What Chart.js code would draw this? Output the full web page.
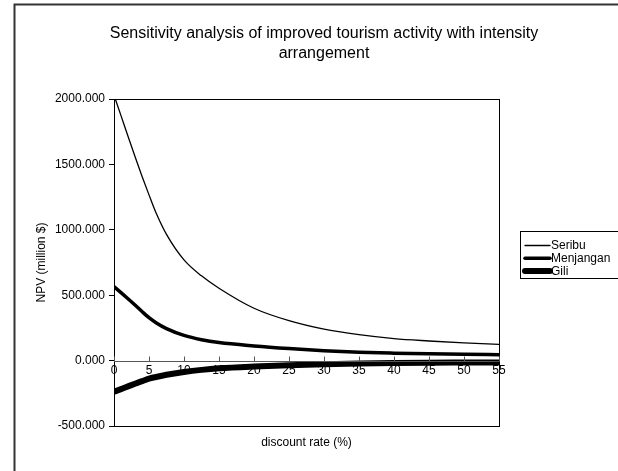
<!DOCTYPE html>
<html>
<head>
<meta charset="utf-8">
<script src="https://cdn.jsdelivr.net/npm/chart.js@4"></script>
<style>
  html, body { margin: 0; padding: 0; background: #fff; }
  #wrap { width: 618px; height: 471px; position: relative; }
</style>
</head>
<body>
<div id="wrap"><canvas id="npvChart" width="618" height="471"></canvas></div>
<script>
// sensitivity chart - NPV vs discount rate

const titleLines = ['Sensitivity analysis of improved tourism activity with intensity', 'arrangement'];
const xTitle = 'discount rate (%)';
const yTitle = 'NPV (million $)';

const rates = [0, 1, 2, 3, 4, 5, 6, 7.5, 10, 12.5, 15, 20, 25, 30, 35, 40, 45, 50, 55];
const seriesNames = ['Seribu', 'Menjangan', 'Gili'];
const seribu = [2030, 1873, 1715, 1560, 1410, 1267, 1130, 965, 770, 648, 553, 400, 305, 240, 198, 168, 150, 135, 124];
const menjangan = [566, 520, 473, 425, 375, 328, 290, 245, 193, 160, 138, 112, 92, 76, 64, 57, 52, 48, 45];
const gili = [-238, -218, -197, -177, -157, -138, -125, -108, -87, -71, -59, -45, -35, -28, -23, -19, -16, -15, -14];
const lineWidths = [1.3, 3.5, 6];

const xMin = 0, xMax = 55, xStep = 5;
const yMin = -500, yMax = 2000, yStep = 500;

const FONT = 'Arial, "Liberation Sans", sans-serif';

function toPoints(vals) {
    return vals.map((v, i) => ({ x: rates[i], y: v }));
}

// frame, title, x-axis title, upward tick marks, boxed legend
const decorPlugin = {
    id: 'decor',
    afterDraw(chart) {
        const ctx = chart.ctx;
        const area = chart.chartArea;
        const xs = chart.scales.x;
        const ys = chart.scales.y;
        ctx.save();

        // outer frame (top + left visible)
        ctx.strokeStyle = '#333';
        ctx.lineWidth = 2;
        ctx.beginPath();
        ctx.moveTo(14.5, 471);
        ctx.lineTo(14.5, 4.5);
        ctx.lineTo(618, 4.5);
        ctx.stroke();

        // plot box
        ctx.strokeStyle = '#000';
        ctx.lineWidth = 1;
        ctx.strokeRect(Math.round(area.left) + 0.5, Math.round(area.top) + 0.5,
            Math.round(area.width), Math.round(area.height));

        // zero axis line + tick marks pointing up
        const y0 = Math.round(ys.getPixelForValue(0)) + 0.5;
        ctx.strokeStyle = '#555';
        ctx.beginPath();
        ctx.moveTo(area.left, y0);
        ctx.lineTo(area.right, y0);
        xs.ticks.forEach(t => {
            const px = Math.round(xs.getPixelForValue(t.value)) + 0.5;
            ctx.moveTo(px, y0);
            ctx.lineTo(px, y0 - 5);
        });
        ctx.stroke();

        // title
        ctx.fillStyle = '#000';
        ctx.textAlign = 'center';
        ctx.textBaseline = 'middle';
        ctx.font = '16px ' + FONT;
        titleLines.forEach((line, i) => ctx.fillText(line, 324, 34 + i * 20));

        // x title
        ctx.font = '12px ' + FONT;
        ctx.fillText(xTitle, (area.left + area.right) / 2, 443);

        // legend
        ctx.strokeStyle = '#000';
        ctx.lineWidth = 1;
        ctx.strokeRect(520.5, 231.5, 110, 47);
        ctx.textAlign = 'left';
        chart.data.datasets.forEach((ds, i) => {
            const ly = 245.5 + i * 12.7;
            ctx.strokeStyle = ds.borderColor;
            ctx.lineWidth = ds.borderWidth;
            ctx.lineCap = 'round';
            ctx.beginPath();
            ctx.moveTo(525, ly);
            ctx.lineTo(550, ly);
            ctx.stroke();
            ctx.fillStyle = '#000';
            ctx.fillText(ds.label, 551, ly + 0.5);
        });
        ctx.restore();
    }
};

function initChart() {
    const ctx = document.getElementById('npvChart').getContext('2d');
    const allSeries = [seribu, menjangan, gili];

    new Chart(ctx, {
        type: 'line',
        data: {
            datasets: allSeries.map((vals, i) => ({
                label: seriesNames[i],
                data: toPoints(vals),
                borderColor: '#000',
                backgroundColor: '#000',
                borderWidth: lineWidths[i],
                pointRadius: 0,
                fill: false,
                cubicInterpolationMode: 'monotone'
            }))
        },
        options: {
            responsive: false,
            animation: false,
            layout: { padding: { left: 34, right: 119, top: 99, bottom: 45 } },
            plugins: {
                legend: { display: false },
                title: { display: false },
                tooltip: { enabled: false }
            },
            scales: {
                x: {
                    type: 'linear',
                    position: { y: 0 },
                    min: xMin,
                    max: xMax,
                    border: { display: false },
                    grid: { display: false },
                    ticks: {
                        stepSize: xStep,
                        maxRotation: 0,
                        padding: -5,
                        color: '#000',
                        font: { family: FONT, size: 12 }
                    }
                },
                y: {
                    min: yMin,
                    max: yMax,
                    afterFit(scale) { scale.width = 80; },
                    border: { display: true, color: '#000' },
                    grid: { drawOnChartArea: false, tickLength: 5, color: '#000' },
                    ticks: {
                        stepSize: yStep,
                        padding: 4,
                        color: '#000',
                        font: { family: FONT, size: 12 },
                        callback: v => v.toFixed(3)
                    },
                    title: {
                        display: true,
                        text: yTitle,
                        color: '#000',
                        font: { family: FONT, size: 12 },
                        padding: { top: 0, bottom: 0 }
                    }
                }
            }
        },
        plugins: [decorPlugin]
    });
}

document.addEventListener('DOMContentLoaded', initChart);
</script>
</body>
</html>
